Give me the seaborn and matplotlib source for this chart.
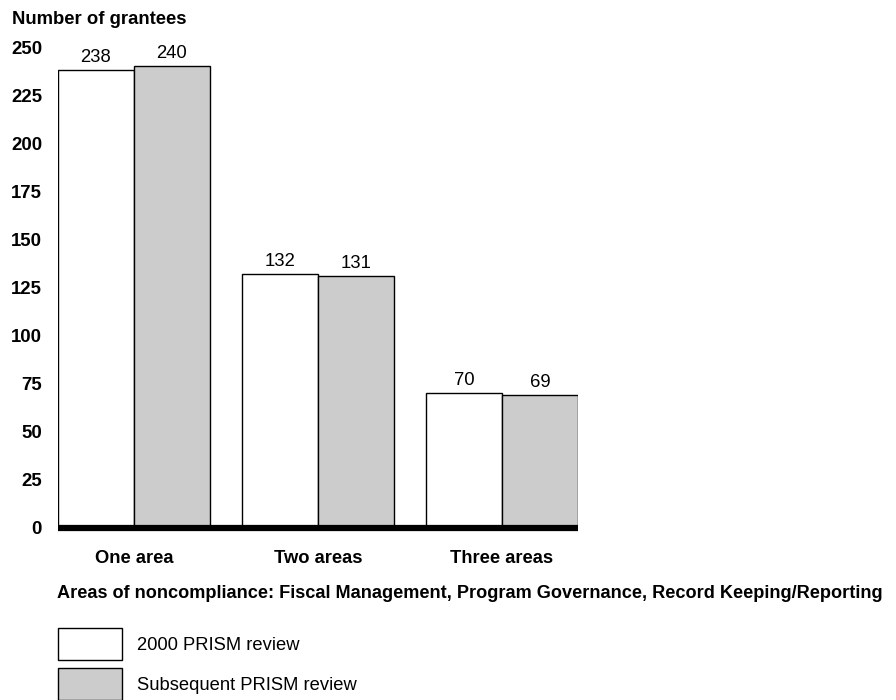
import matplotlib
matplotlib.use("Agg")
import matplotlib.pyplot as plt
import seaborn as sns
import pandas as pd

categories = ["One area", "Two areas", "Three areas"]
series_names = ["2000 PRISM review", "Subsequent PRISM review"]
values_2000 = [238, 132, 70]
values_subsequent = [240, 131, 69]
y_ticks = [0, 25, 50, 75, 100, 125, 150, 175, 200, 225, 250]

df = pd.DataFrame({
    "category": categories * 2,
    "series": [series_names[0]] * 3 + [series_names[1]] * 3,
    "value": values_2000 + values_subsequent,
})

sns.set_theme(style="white")
plt.rcParams["font.family"] = ["Liberation Sans", "DejaVu Sans"]
plt.rcParams["text.color"] = "black"
plt.rcParams["xtick.color"] = "black"
plt.rcParams["ytick.color"] = "black"

fig = plt.figure(figsize=(8.96, 7.0), dpi=100)
ax = fig.add_axes([58 / 896, 1 - 528 / 700, 520 / 896, 481 / 700])

sns.barplot(data=df, x="category", y="value", hue="series", order=categories,
            hue_order=series_names, palette=["#ffffff", "#cccccc"],
            edgecolor="black", linewidth=1.0, width=0.826, ax=ax, legend=True)

for cont in ax.containers:
    ax.bar_label(cont, padding=3, fontsize=13.3, color="black")

ax.set_xlim(-0.413, 2.413)
ax.set_ylim(0, 250)
ax.set_yticks(y_ticks)
ax.set_yticklabels([str(t) for t in y_ticks], fontsize=13.4, fontweight="bold")
ax.tick_params(axis="y", length=0, pad=11.5, labelcolor="black")
ax.tick_params(axis="x", length=0, pad=16, labelcolor="black")
for lab in ax.get_xticklabels():
    lab.set_fontweight("bold")
    lab.set_fontsize(13.2)
ax.set_ylabel("")
ax.set_xlabel("")
for s in ["top", "right", "left"]:
    ax.spines[s].set_visible(False)
ax.spines["bottom"].set_linewidth(4.5)
ax.spines["bottom"].set_color("black")
ax.spines["bottom"].set_capstyle("butt")

fig.text(12 / 896, 1 - 24 / 700, "Number of grantees", fontsize=13.3,
         fontweight="bold", va="baseline", ha="left")
fig.text(57 / 896, 1 - 593 / 700,
         "Areas of noncompliance: Fiscal Management, Program Governance, Record Keeping/Reporting",
         fontsize=13.1, fontweight="bold", va="center", ha="left")

handles, labels = ax.get_legend_handles_labels()
ax.get_legend().remove()
fig.legend(handles, labels, loc="upper left",
           bbox_to_anchor=(58 / 896, 1 - 628 / 700), frameon=False,
           fontsize=13.2, handlelength=3.5, handleheight=2.31,
           handletextpad=0.8, labelspacing=0.45, borderpad=0, borderaxespad=0)

fig.savefig("out.png", dpi=100)
